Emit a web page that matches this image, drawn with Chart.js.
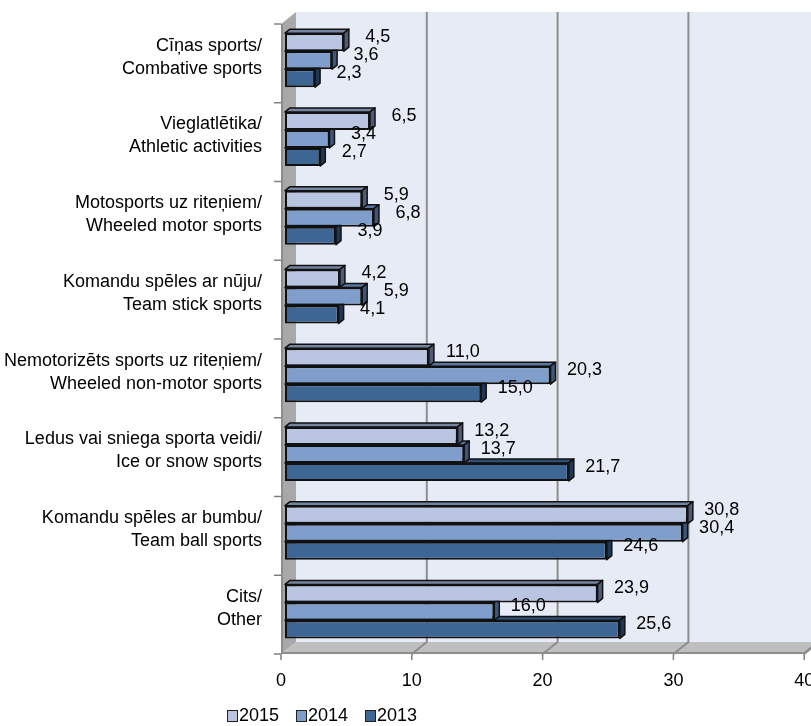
<!DOCTYPE html>
<html>
<head>
<meta charset="utf-8">
<script src="https://cdn.jsdelivr.net/npm/chart.js@4/dist/chart.umd.min.js"></script>
<style>
  html, body { margin: 0; padding: 0; background: #ffffff; }
  canvas { display: block; }
</style>
</head>
<body>
<canvas id="chart" width="811" height="726"></canvas>
<script>
// Sport categories (Latvian / English), one entry per group of bars
const categories = [
  ['Cīņas sports/', 'Combative sports'],
  ['Vieglatlētika/', 'Athletic activities'],
  ['Motosports uz riteņiem/', 'Wheeled motor sports'],
  ['Komandu spēles ar nūju/', 'Team stick sports'],
  ['Nemotorizēts sports uz riteņiem/', 'Wheeled non-motor sports'],
  ['Ledus vai sniega sporta veidi/', 'Ice or snow sports'],
  ['Komandu spēles ar bumbu/', 'Team ball sports'],
  ['Cits/', 'Other']
];
const seriesNames = ['2015', '2014', '2013'];
const values2015 = [4.5, 6.5, 5.9, 4.2, 11.0, 13.2, 30.8, 23.9];
const values2014 = [3.6, 3.4, 6.8, 5.9, 20.3, 13.7, 30.4, 16.0];
const values2013 = [2.3, 2.7, 3.9, 4.1, 15.0, 21.7, 24.6, 25.6];
const xTicks = [0, 10, 20, 30, 40];

const FONT = 'Liberation Sans, Arial, sans-serif';
const FONT_SIZE = 18;

// face / top / side shades for each series
const faceColors = ['#B9C5E1', '#7F9ECC', '#3D6694'];
const topColors  = ['#76859F', '#5A76A0', '#2E4D73'];
const sideColors = ['#4E5B78', '#3E5679', '#1F3654'];

// depth of the 3-D box and of the bars
const BOX = { dx: 15, dy: 12 };
const BAR = { dx: 5, dy: 4 };
const BAR_PLANE = 4 / 15;   // bars sit this far back from the front plane

const fmt = v => v.toFixed(1).replace('.', ',');

// fixed axis sizes, no automatic padding around the plot
const fixAxis = size => s => {
  if (s.isHorizontal()) s.height = size; else s.width = size;
  s.paddingTop = s.paddingBottom = s.paddingLeft = s.paddingRight = 0;
};

const box3d = {
  id: 'box3d',
  beforeDatasetsDraw(chart) {
    const ctx = chart.ctx, ca = chart.chartArea;
    const xs = chart.scales.x;
    const fOff = { x: -BOX.dx * BAR_PLANE, y: BOX.dy * BAR_PLANE };
    const bOff = { x: BOX.dx * (1 - BAR_PLANE), y: -BOX.dy * (1 - BAR_PLANE) };
    const fx = v => xs.getPixelForValue(v) + fOff.x;
    const bx = v => xs.getPixelForValue(v) + bOff.x;
    const fTop = ca.top + fOff.y, fBot = ca.bottom + fOff.y;
    const bTop = ca.top + bOff.y, bBot = ca.bottom + bOff.y;
    const maxV = xTicks[xTicks.length - 1];
    ctx.save();

    // back wall
    ctx.fillStyle = '#E7EBF5';
    ctx.fillRect(bx(0), bTop, chart.width - bx(0), bBot - bTop);

    // floor
    ctx.fillStyle = '#BFBFBF';
    ctx.beginPath();
    ctx.moveTo(fx(0), fBot);
    ctx.lineTo(bx(0), bBot);
    ctx.lineTo(bx(maxV), bBot);
    ctx.lineTo(fx(maxV), fBot);
    ctx.closePath();
    ctx.fill();
    ctx.strokeStyle = '#8E8E8E';
    ctx.lineWidth = 2;
    ctx.beginPath();
    ctx.moveTo(fx(0), fBot - 1);
    ctx.lineTo(fx(maxV), fBot - 1);
    ctx.lineTo(bx(maxV), bBot - 1);
    ctx.stroke();

    // left wall
    ctx.fillStyle = '#A8A8A8';
    ctx.beginPath();
    ctx.moveTo(fx(0), fTop);
    ctx.lineTo(bx(0), bTop);
    ctx.lineTo(bx(0), bBot);
    ctx.lineTo(fx(0), fBot);
    ctx.closePath();
    ctx.fill();
    ctx.strokeStyle = '#8C8C8C';
    ctx.lineWidth = 2;
    ctx.beginPath();
    ctx.moveTo(fx(0) + 1, fTop);
    ctx.lineTo(fx(0) + 1, fBot);
    ctx.stroke();

    // grid lines on back wall and floor
    ctx.strokeStyle = '#8E8E8E';
    ctx.lineWidth = 2;
    xTicks.forEach(v => {
      if (v === 0) return;
      ctx.beginPath();
      ctx.moveTo(bx(v), bTop);
      ctx.lineTo(bx(v), bBot);
      ctx.lineTo(fx(v), fBot);
      ctx.stroke();
    });

    // tick marks
    ctx.strokeStyle = '#808080';
    ctx.lineWidth = 1.5;
    xTicks.forEach(v => {
      ctx.beginPath();
      ctx.moveTo(fx(v), fBot);
      ctx.lineTo(fx(v), fBot + 6);
      ctx.stroke();
    });
    const n = categories.length;
    for (let i = 0; i <= n; i++) {
      const y = fTop + (fBot - fTop) * i / n;
      ctx.beginPath();
      ctx.moveTo(fx(0) - 7, y);
      ctx.lineTo(fx(0), y);
      ctx.stroke();
    }
    ctx.restore();
  },

  // top and side faces of each bar, drawn just before its front face
  beforeDatasetDraw(chart, args) {
    const ctx = chart.ctx;
    const i = args.index;
    ctx.save();
    ctx.lineWidth = 1.5;
    ctx.strokeStyle = '#111111';
    ctx.lineJoin = 'round';
    args.meta.data.forEach(el => {
      const p = el.getProps(['x', 'y', 'base', 'height'], true);
      const top = p.y - p.height / 2, bot = p.y + p.height / 2;
      ctx.fillStyle = topColors[i];
      ctx.beginPath();
      ctx.moveTo(p.base, top);
      ctx.lineTo(p.base + BAR.dx, top - BAR.dy);
      ctx.lineTo(p.x + BAR.dx, top - BAR.dy);
      ctx.lineTo(p.x, top);
      ctx.closePath();
      ctx.fill();
      ctx.stroke();
      ctx.fillStyle = sideColors[i];
      ctx.beginPath();
      ctx.moveTo(p.x, top);
      ctx.lineTo(p.x + BAR.dx, top - BAR.dy);
      ctx.lineTo(p.x + BAR.dx, bot - BAR.dy);
      ctx.lineTo(p.x, bot);
      ctx.closePath();
      ctx.fill();
      ctx.stroke();
    });
    ctx.restore();
  },

  afterDatasetsDraw(chart) {
    const ctx = chart.ctx;
    ctx.save();
    ctx.font = FONT_SIZE + 'px ' + FONT;
    ctx.fillStyle = '#000000';
    ctx.textAlign = 'center';
    ctx.textBaseline = 'middle';
    chart.data.datasets.forEach((ds, di) => {
      chart.getDatasetMeta(di).data.forEach((el, j) => {
        const p = el.getProps(['x', 'y'], true);
        ctx.fillText(fmt(ds.data[j]), p.x + 34, p.y - 5);
      });
    });

    // legend
    const ly = 716;
    let lx = 227;
    ctx.textAlign = 'left';
    chart.data.datasets.forEach((ds, di) => {
      ctx.fillStyle = faceColors[di];
      ctx.fillRect(lx, ly - 6, 11, 12);
      ctx.strokeStyle = '#222222';
      ctx.lineWidth = 1;
      ctx.strokeRect(lx + 0.5, ly - 5.5, 10, 11);
      ctx.fillStyle = '#000000';
      ctx.fillText(ds.label, lx + 12, ly);
      lx += 69;
    });
    ctx.restore();
  }
};

const datasets = [values2015, values2014, values2013].map((vals, i) => ({
  label: seriesNames[i],
  data: vals,
  backgroundColor: faceColors[i],
  borderColor: '#111111',
  borderWidth: 2,
  borderSkipped: false,
  categoryPercentage: 0.686,
  barPercentage: 1.0
}));

new Chart(document.getElementById('chart'), {
  type: 'bar',
  data: { labels: categories, datasets },
  plugins: [box3d],
  options: {
    indexAxis: 'y',
    responsive: false,
    animation: false,
    layout: { autoPadding: false, padding: { top: 20.8, right: 2.8, left: 0, bottom: 0 } },
    plugins: {
      legend: { display: false },
      tooltip: { enabled: false }
    },
    scales: {
      x: {
        type: 'linear',
        min: 0,
        max: 40,
        grid: { display: false, drawTicks: false },
        border: { display: false },
        ticks: {
          stepSize: 10,
          color: '#000000',
          font: { family: FONT, size: FONT_SIZE },
          padding: 19,
          labelOffset: -4
        },
        afterFit: fixAxis(75.2)
      },
      y: {
        type: 'category',
        offset: true,
        grid: { display: false, drawTicks: false },
        border: { display: false },
        ticks: {
          color: '#000000',
          font: { family: FONT, size: FONT_SIZE, lineHeight: 1.27 },
          padding: 23,
          labelOffset: -3
        },
        afterFit: fixAxis(285)
      }
    }
  }
});
</script>
</body>
</html>
